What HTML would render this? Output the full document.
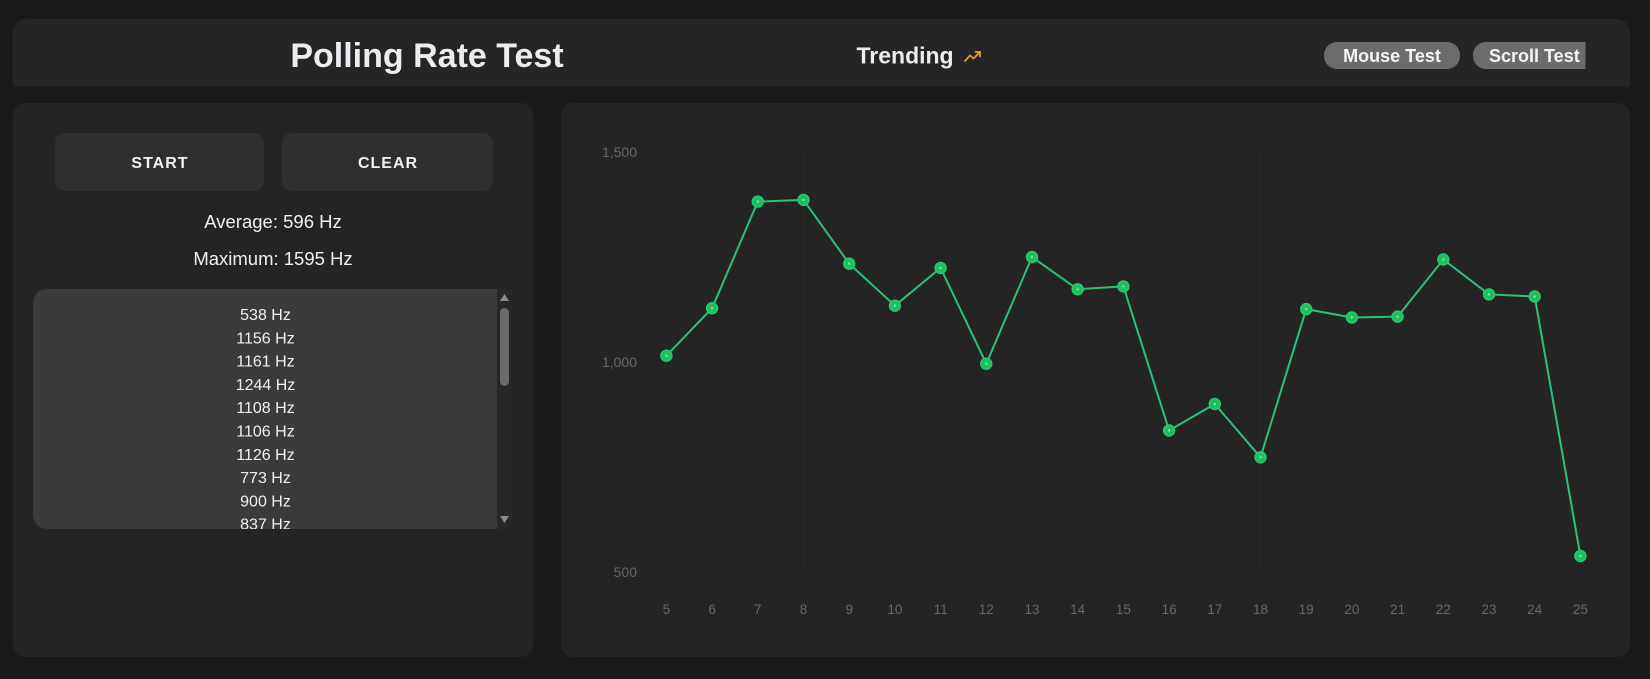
<!DOCTYPE html>
<html>
<head>
<meta charset="utf-8">
<style>
  html, body { margin:0; padding:0; background:#1a1a1a; width:1650px; height:679px; overflow:hidden; }
  svg { display:block; }
  text { font-family: "Liberation Sans", Arial, sans-serif; }
</style>
</head>
<body>
<svg width="1650" height="679" viewBox="0 0 1650 679" xmlns="http://www.w3.org/2000/svg">
  <defs>
    <clipPath id="navclip"><rect x="1300" y="30" width="285.5" height="50"/></clipPath>
    <clipPath id="listclip"><rect x="33" y="289" width="464" height="240" rx="16"/></clipPath>
  </defs>
  <rect width="1650" height="679" fill="#1a1a1a"/>

  <!-- Header -->
  <path d="M12.5 87 V35 Q12.5 19 28.5 19 H1614 Q1630 19 1630 35 V87 Z" fill="#252525"/>
  <rect x="12.5" y="86" width="1617.5" height="1.5" fill="#1f1f1f"/>
  <text x="427" y="67" font-size="34" font-weight="bold" fill="#ececf1" text-anchor="middle">Polling Rate Test</text>
  <text x="856.5" y="63.3" font-size="23" font-weight="bold" fill="#ececf1">Trending</text>
  <g stroke="#e59a3a" stroke-width="1.8" fill="none" stroke-linecap="round" stroke-linejoin="round">
    <polyline points="965,61 970,55.5 973.5,58.5 980,52"/>
    <polyline points="975.5,52 980,52 980,56.5"/>
  </g>
  <rect x="1324" y="42" width="136" height="27" rx="13" fill="#6c6c6c"/>
  <text x="1392" y="62" font-size="18" font-weight="bold" fill="#f5f5f5" text-anchor="middle">Mouse Test</text>
  <g clip-path="url(#navclip)">
    <rect x="1473" y="42" width="150" height="27" rx="13" fill="#6c6c6c"/>
    <text x="1489" y="62" font-size="18" font-weight="bold" fill="#f5f5f5">Scroll Test</text>
  </g>

  <!-- Left panel -->
  <rect x="12.5" y="103" width="521" height="554" rx="12" fill="#242424"/>
  <rect x="55" y="133" width="209" height="58" rx="10" fill="#2f2f2f"/>
  <rect x="282" y="133" width="211" height="58" rx="10" fill="#2f2f2f"/>
  <text x="160" y="168" font-size="16" font-weight="bold" fill="#f2f2f2" text-anchor="middle" letter-spacing="1">START</text>
  <text x="388" y="168" font-size="16" font-weight="bold" fill="#f2f2f2" text-anchor="middle" letter-spacing="1">CLEAR</text>
  <text x="273" y="228" font-size="18.5" fill="#f0f0f0" text-anchor="middle">Average: 596 Hz</text>
  <text x="273" y="265" font-size="18.5" fill="#f0f0f0" text-anchor="middle">Maximum: 1595 Hz</text>

  <!-- list -->
  <path d="M49 289 H497 V529 H49 Q33 529 33 513 V305 Q33 289 49 289 Z" fill="#3b3b3b"/>
  <g clip-path="url(#listclip)" font-size="16" fill="#f0f0f0" text-anchor="middle">
    <text x="265.5" y="320">538 Hz</text>
    <text x="265.5" y="343.3">1156 Hz</text>
    <text x="265.5" y="366.6">1161 Hz</text>
    <text x="265.5" y="389.9">1244 Hz</text>
    <text x="265.5" y="413.2">1108 Hz</text>
    <text x="265.5" y="436.5">1106 Hz</text>
    <text x="265.5" y="459.8">1126 Hz</text>
    <text x="265.5" y="483.1">773 Hz</text>
    <text x="265.5" y="506.4">900 Hz</text>
    <text x="265.5" y="529.7">837 Hz</text>
  </g>
  <!-- scrollbar -->
  <rect x="497" y="289" width="15" height="240" fill="#272727"/>
  <polygon points="504.5,294 500,301 509,301" fill="#8a8a8a"/>
  <rect x="500" y="308" width="9" height="78" rx="4.5" fill="#6a6a6a"/>
  <polygon points="504.5,523 500,516 509,516" fill="#8a8a8a"/>

  <!-- Right panel -->
  <rect x="561" y="103" width="1069" height="554" rx="12" fill="#242424"/>

  <!-- grid -->
  <g stroke="#292929" stroke-width="1">
    <line x1="666.4" y1="152" x2="666.4" y2="572"/>
    <line x1="712.1" y1="152" x2="712.1" y2="572"/>
    <line x1="757.8" y1="152" x2="757.8" y2="572"/>
    <line x1="803.5" y1="152" x2="803.5" y2="572"/>
    <line x1="849.2" y1="152" x2="849.2" y2="572"/>
    <line x1="894.9" y1="152" x2="894.9" y2="572"/>
    <line x1="940.6" y1="152" x2="940.6" y2="572"/>
    <line x1="986.3" y1="152" x2="986.3" y2="572"/>
    <line x1="1032" y1="152" x2="1032" y2="572"/>
    <line x1="1077.7" y1="152" x2="1077.7" y2="572"/>
    <line x1="1123.4" y1="152" x2="1123.4" y2="572"/>
    <line x1="1169.1" y1="152" x2="1169.1" y2="572"/>
    <line x1="1214.8" y1="152" x2="1214.8" y2="572"/>
    <line x1="1260.5" y1="152" x2="1260.5" y2="572"/>
    <line x1="1306.2" y1="152" x2="1306.2" y2="572"/>
    <line x1="1351.9" y1="152" x2="1351.9" y2="572"/>
    <line x1="1397.6" y1="152" x2="1397.6" y2="572"/>
    <line x1="1443.3" y1="152" x2="1443.3" y2="572"/>
    <line x1="1489" y1="152" x2="1489" y2="572"/>
    <line x1="1534.7" y1="152" x2="1534.7" y2="572"/>
    <line x1="1580.4" y1="152" x2="1580.4" y2="572"/>
    <line x1="666.4" y1="152" x2="1580.4" y2="152"/>
    <line x1="666.4" y1="572" x2="1580.4" y2="572"/>
  </g>

  <!-- y labels -->
  <g font-size="14" fill="#686868" text-anchor="end">
    <text x="637" y="157">1,500</text>
    <text x="637" y="367">1,000</text>
    <text x="637" y="577">500</text>
  </g>
  <!-- x labels -->
  <g font-size="13.5" fill="#686868" text-anchor="middle">
    <text x="666.4" y="614">5</text>
    <text x="712.1" y="614">6</text>
    <text x="757.8" y="614">7</text>
    <text x="803.5" y="614">8</text>
    <text x="849.2" y="614">9</text>
    <text x="894.9" y="614">10</text>
    <text x="940.6" y="614">11</text>
    <text x="986.3" y="614">12</text>
    <text x="1032" y="614">13</text>
    <text x="1077.7" y="614">14</text>
    <text x="1123.4" y="614">15</text>
    <text x="1169.1" y="614">16</text>
    <text x="1214.8" y="614">17</text>
    <text x="1260.5" y="614">18</text>
    <text x="1306.2" y="614">19</text>
    <text x="1351.9" y="614">20</text>
    <text x="1397.6" y="614">21</text>
    <text x="1443.3" y="614">22</text>
    <text x="1489" y="614">23</text>
    <text x="1534.7" y="614">24</text>
    <text x="1580.4" y="614">25</text>
  </g>

  <!-- series -->
  <polyline fill="none" stroke="#2bc275" stroke-width="2" stroke-linejoin="round"
    points="666.4,355.7 712.1,308.2 757.8,201.6 803.5,199.9 849.2,263.7 894.9,305.7 940.6,267.9 986.3,363.7 1032,257 1077.7,289.3 1123.4,286.4 1169.1,430.5 1214.8,404 1260.5,457.3 1306.2,309.1 1351.9,317.5 1397.6,316.6 1443.3,259.5 1489,294.4 1534.7,296.5 1580.4,556"/>
  <g fill="#1dbf62" stroke="#27cc72" stroke-width="1.2">
    <circle cx="666.4" cy="355.7" r="5.6"/>
    <circle cx="712.1" cy="308.2" r="5.6"/>
    <circle cx="757.8" cy="201.6" r="5.6"/>
    <circle cx="803.5" cy="199.9" r="5.6"/>
    <circle cx="849.2" cy="263.7" r="5.6"/>
    <circle cx="894.9" cy="305.7" r="5.6"/>
    <circle cx="940.6" cy="267.9" r="5.6"/>
    <circle cx="986.3" cy="363.7" r="5.6"/>
    <circle cx="1032" cy="257" r="5.6"/>
    <circle cx="1077.7" cy="289.3" r="5.6"/>
    <circle cx="1123.4" cy="286.4" r="5.6"/>
    <circle cx="1169.1" cy="430.5" r="5.6"/>
    <circle cx="1214.8" cy="404" r="5.6"/>
    <circle cx="1260.5" cy="457.3" r="5.6"/>
    <circle cx="1306.2" cy="309.1" r="5.6"/>
    <circle cx="1351.9" cy="317.5" r="5.6"/>
    <circle cx="1397.6" cy="316.6" r="5.6"/>
    <circle cx="1443.3" cy="259.5" r="5.6"/>
    <circle cx="1489" cy="294.4" r="5.6"/>
    <circle cx="1534.7" cy="296.5" r="5.6"/>
    <circle cx="1580.4" cy="556" r="5.6"/>
  </g>
  <g fill="#7fe3aa">
    <circle cx="666.4" cy="355.7" r="1.2"/>
    <circle cx="712.1" cy="308.2" r="1.2"/>
    <circle cx="757.8" cy="201.6" r="1.2"/>
    <circle cx="803.5" cy="199.9" r="1.2"/>
    <circle cx="849.2" cy="263.7" r="1.2"/>
    <circle cx="894.9" cy="305.7" r="1.2"/>
    <circle cx="940.6" cy="267.9" r="1.2"/>
    <circle cx="986.3" cy="363.7" r="1.2"/>
    <circle cx="1032" cy="257" r="1.2"/>
    <circle cx="1077.7" cy="289.3" r="1.2"/>
    <circle cx="1123.4" cy="286.4" r="1.2"/>
    <circle cx="1169.1" cy="430.5" r="1.2"/>
    <circle cx="1214.8" cy="404" r="1.2"/>
    <circle cx="1260.5" cy="457.3" r="1.2"/>
    <circle cx="1306.2" cy="309.1" r="1.2"/>
    <circle cx="1351.9" cy="317.5" r="1.2"/>
    <circle cx="1397.6" cy="316.6" r="1.2"/>
    <circle cx="1443.3" cy="259.5" r="1.2"/>
    <circle cx="1489" cy="294.4" r="1.2"/>
    <circle cx="1534.7" cy="296.5" r="1.2"/>
    <circle cx="1580.4" cy="556" r="1.2"/>
  </g>
</svg>
</body>
</html>
